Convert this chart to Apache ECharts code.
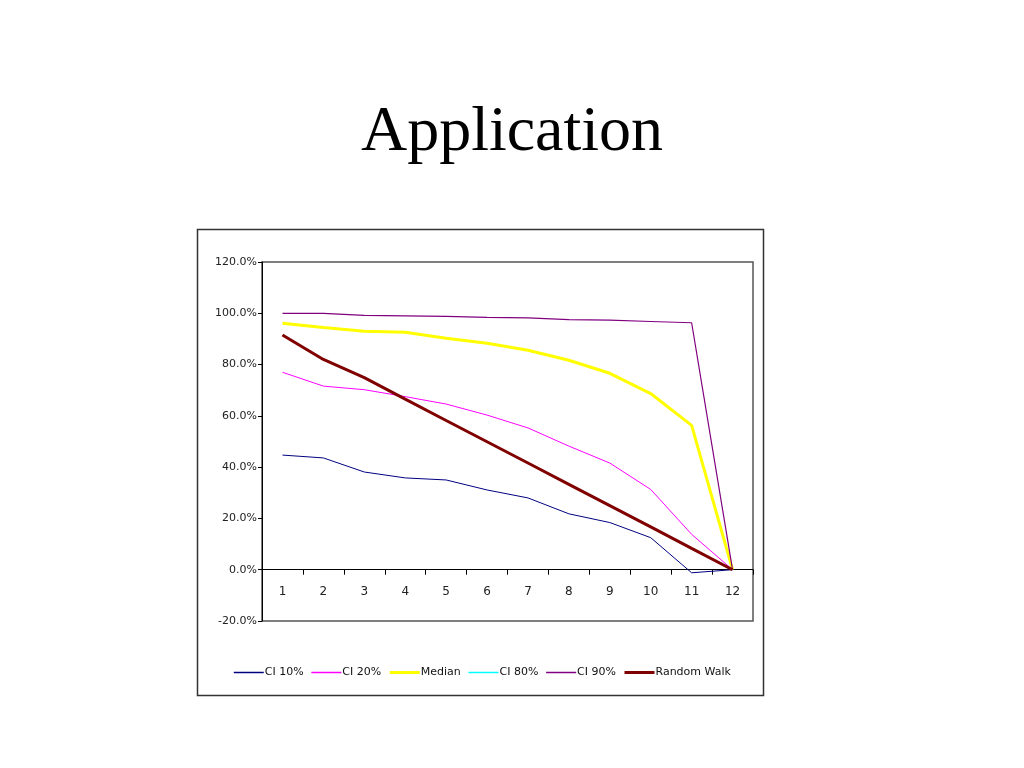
<!DOCTYPE html>
<html><head><meta charset="utf-8">
<script src="https://cdn.jsdelivr.net/npm/echarts@6/dist/echarts.min.js"></script>
<style>html,body{margin:0;padding:0;background:#fff}#c{width:1024px;height:768px}</style>
</head><body><div id="c"></div>
<script>
var categories = ['1','2','3','4','5','6','7','8','9','10','11','12'];
var ci10 = [44.7, 43.6, 38.1, 35.8, 35.0, 31.1, 28.0, 21.8, 18.4, 12.5, -1.2, 0];
var ci20 = [77.0, 71.6, 70.2, 67.5, 64.6, 60.3, 55.3, 48.2, 41.6, 31.3, 13.8, 0];
var median = [96.1, 94.5, 93.0, 92.6, 90.3, 88.3, 85.6, 81.7, 76.6, 68.7, 56.3, 0];
var ci80 = [null, null, null, null, null, null, null, null, null, null, null, null];
var ci90 = [100.0, 100.0, 99.2, 99.0, 98.8, 98.4, 98.2, 97.5, 97.3, 96.8, 96.3, 0];
var randomWalk = [91.5, 82.0, 74.9, 66.5, 58.2, 49.9, 41.6, 33.3, 25.0, 16.7, 8.3, 0];
var yTicks = {min: -20, max: 120, interval: 20};

var FONT = '"DejaVu Sans", Arial, sans-serif';
var chart = echarts.init(document.getElementById('c'));
function mk(name, data, color, width) {
  return {name: name, type: 'line', data: data, symbol: 'none', showSymbol: false,
    lineStyle: {color: color, width: width}, itemStyle: {color: color}, animation: false};
}
var gridTop = 262, gridBottom = 621;
var zeroOffset = (gridBottom - gridTop) * (0 - yTicks.min) / (yTicks.max - yTicks.min);
chart.setOption({
  animation: false,
  title: {text: 'Application', left: 'center', top: 96,
    textStyle: {fontFamily: '"Liberation Serif", "Times New Roman", serif', fontSize: 64, fontWeight: 'normal', color: '#000'}},
  graphic: [{type: 'rect', shape: {x: 197.5, y: 229.5, width: 566, height: 466},
    style: {fill: 'none', stroke: '#333', lineWidth: 1.5}, z: -1}],
  grid: {left: 262, right: 271, top: gridTop, bottom: 768 - gridBottom, show: true, borderColor: '#555', borderWidth: 1.5, backgroundColor: 'transparent'},
  legend: {left: 228, top: 662, itemWidth: 30, itemHeight: 10, itemGap: 7,
    itemStyle: {opacity: 0},
    textStyle: {fontFamily: FONT, fontSize: 11, color: '#111', padding: [0,0,0,-4]},
    data: [
      {name: 'CI 10%', lineStyle: {width: 1.5}},
      {name: 'CI 20%', lineStyle: {width: 1.5}},
      {name: 'Median', lineStyle: {width: 3}},
      {name: 'CI 80%', lineStyle: {width: 1.5}},
      {name: 'CI 90%', lineStyle: {width: 1.5}},
      {name: 'Random Walk', lineStyle: {width: 3}}
    ]},
  xAxis: {type: 'category', data: categories, boundaryGap: true, offset: -zeroOffset,
    axisLine: {onZero: false, lineStyle: {color: '#000', width: 1}},
    axisTick: {show: true, length: 5, lineStyle: {color: '#000'}},
    axisLabel: {margin: 16, fontFamily: FONT, fontSize: 12, color: '#222'},
    splitLine: {show: false}},
  yAxis: {type: 'value', min: yTicks.min, max: yTicks.max, interval: yTicks.interval,
    axisLine: {show: true, lineStyle: {color: '#000'}},
    axisTick: {show: true, length: 4, lineStyle: {color: '#000'}},
    axisLabel: {margin: 5, fontFamily: FONT, fontSize: 11, color: '#222',
      formatter: function (v) { return v.toFixed(1) + '%'; }},
    splitLine: {show: false}},
  series: [
    mk('CI 10%', ci10, '#000080', 1),
    mk('CI 20%', ci20, '#FF00FF', 1),
    mk('Median', median, '#FFFF00', 3),
    mk('CI 80%', ci80, '#00FFFF', 1),
    mk('CI 90%', ci90, '#800080', 1.2),
    mk('Random Walk', randomWalk, '#800000', 3)
  ]
});
</script></body></html>
